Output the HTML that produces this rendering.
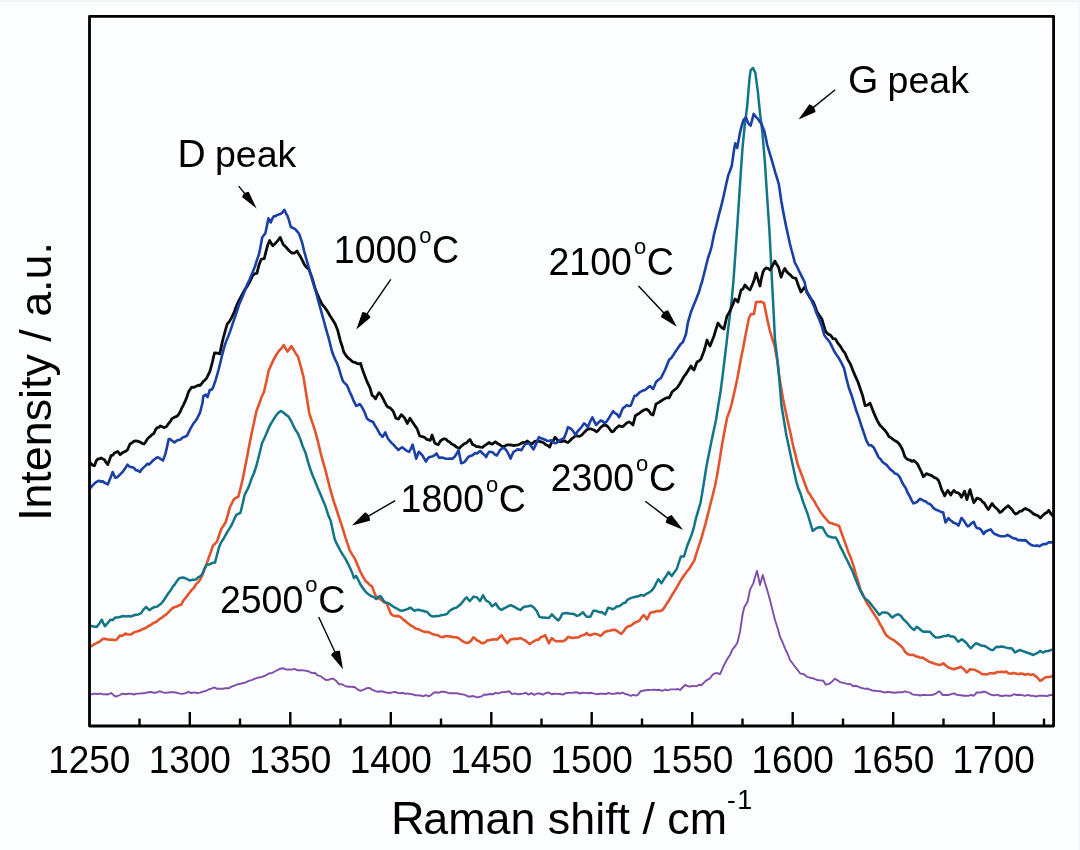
<!DOCTYPE html>
<html><head><meta charset="utf-8"><style>
html,body{margin:0;padding:0;background:#fcfdff;}
svg{display:block;}
text{font-family:"Liberation Sans",Arial,sans-serif;fill:#000;}
svg{-webkit-font-smoothing:antialiased;will-change:transform;}
</style></head><body>
<svg width="1080" height="850" viewBox="0 0 1080 850">
<rect x="0" y="0" width="1080" height="850" fill="#fcfdff"/>
<rect x="0" y="0.5" width="1080" height="1.2" fill="#eeeef1"/>
<rect x="1078.3" y="0" width="1.2" height="850" fill="#efefef"/>
<g clip-path="url(#clip)">
<path d="M90.5,694.5 L93.0,693.8 L95.5,693.8 L98.0,694.0 L100.5,693.6 L103.0,694.4 L105.6,694.2 L108.1,694.5 L111.0,693.0 L113.2,694.8 L115.3,696.5 L117.7,696.0 L120.0,695.0 L122.4,693.6 L125.3,694.2 L128.2,693.7 L131.0,693.7 L133.9,694.5 L136.8,693.6 L139.7,693.5 L142.5,693.3 L145.4,693.0 L148.3,692.2 L151.2,692.0 L154.0,692.8 L156.9,692.5 L159.8,691.2 L162.7,692.4 L165.5,692.8 L168.4,692.5 L171.2,692.1 L174.1,692.3 L177.0,692.8 L179.8,693.6 L182.7,693.9 L185.6,693.2 L188.4,691.8 L191.3,693.0 L194.2,692.4 L197.1,693.0 L199.9,692.6 L202.8,691.6 L205.7,691.0 L208.5,689.5 L211.4,688.7 L214.3,687.4 L217.2,688.8 L220.0,688.6 L222.9,688.7 L225.8,688.1 L228.6,688.3 L231.5,686.7 L234.4,685.6 L237.3,684.4 L240.2,683.8 L243.0,683.0 L245.9,682.4 L248.7,680.9 L251.6,680.1 L254.5,678.8 L257.3,677.8 L260.2,677.3 L262.6,676.7 L265.0,675.6 L267.4,674.4 L269.8,673.2 L272.2,673.0 L274.6,671.5 L277.5,670.2 L280.3,668.7 L283.2,668.2 L286.0,669.6 L288.9,669.5 L291.8,669.6 L294.6,668.9 L297.5,670.3 L300.4,670.1 L303.3,670.4 L306.1,670.8 L309.0,671.5 L311.9,673.1 L314.7,672.7 L317.6,675.3 L320.5,676.1 L323.3,678.2 L326.2,680.1 L328.6,679.8 L331.0,678.8 L333.4,678.7 L336.3,681.1 L339.2,684.4 L341.7,684.2 L344.2,685.5 L346.7,686.6 L349.2,686.7 L352.1,686.7 L354.9,687.3 L357.8,689.6 L360.7,690.8 L363.6,689.6 L366.4,688.3 L369.3,687.9 L372.1,689.6 L375.0,690.8 L377.9,691.8 L380.8,691.3 L383.6,691.8 L386.5,692.5 L389.4,693.0 L392.2,692.4 L395.1,691.9 L398.0,693.0 L400.4,693.2 L402.8,692.8 L405.2,693.8 L407.6,693.4 L410.0,694.0 L412.7,694.3 L415.3,695.3 L418.0,695.4 L420.6,695.5 L423.3,696.4 L425.9,695.0 L428.5,696.3 L431.1,695.2 L433.6,692.7 L436.2,692.3 L438.8,692.8 L441.4,691.7 L444.1,691.6 L446.7,692.4 L449.4,693.3 L452.0,693.1 L454.7,693.3 L457.3,693.3 L460.0,694.0 L462.7,694.4 L465.4,695.1 L468.1,696.5 L470.8,696.5 L473.5,696.0 L476.2,697.2 L478.9,697.0 L481.7,696.3 L484.4,694.5 L487.2,694.7 L490.0,694.0 L492.8,694.3 L495.6,692.8 L498.4,693.5 L501.1,692.3 L503.9,692.1 L506.7,691.7 L509.4,691.3 L512.0,694.1 L514.7,693.4 L517.3,694.2 L520.0,694.0 L522.9,693.6 L525.7,692.8 L528.6,694.6 L531.4,693.2 L534.3,694.8 L537.1,693.5 L540.0,693.5 L542.9,694.7 L545.7,693.1 L548.6,692.5 L551.4,694.3 L554.3,693.8 L557.1,693.9 L560.0,694.0 L562.9,694.7 L565.7,693.2 L568.6,692.9 L571.4,692.9 L574.3,692.5 L577.1,692.3 L580.0,693.5 L582.9,692.6 L585.7,692.9 L588.6,693.3 L591.4,692.8 L594.3,693.6 L597.1,694.3 L600.0,693.8 L602.9,693.6 L605.7,694.0 L608.6,693.0 L611.4,693.8 L614.3,693.9 L617.1,693.0 L620.0,693.5 L622.6,692.7 L625.3,694.0 L627.9,694.5 L630.5,695.8 L633.2,694.9 L635.8,695.6 L638.1,694.7 L640.5,691.2 L642.8,690.8 L645.6,690.3 L648.4,690.0 L651.1,689.9 L653.9,689.7 L656.7,690.0 L659.5,689.8 L662.2,690.8 L665.0,689.5 L667.7,690.3 L670.5,689.4 L673.2,689.4 L676.0,689.4 L678.0,689.0 L680.0,690.0 L682.5,687.5 L685.0,685.0 L687.5,686.0 L690.0,686.7 L692.2,685.9 L694.5,686.1 L696.7,686.3 L698.9,684.8 L701.1,685.2 L703.3,683.3 L705.5,681.1 L707.8,679.5 L710.0,678.3 L712.5,674.8 L715.0,673.3 L717.5,673.1 L720.0,674.2 L722.5,668.7 L725.0,663.3 L727.5,658.6 L730.0,655.0 L732.5,649.3 L735.0,646.4 L737.5,642.5 L740.0,631.7 L742.5,615.0 L744.2,607.5 L745.9,604.6 L747.5,601.7 L750.0,590.0 L751.6,586.7 L753.3,583.3 L755.1,577.1 L757.0,570.8 L758.5,577.7 L760.0,585.0 L762.8,575.0 L764.8,582.3 L766.7,588.3 L768.8,595.6 L770.8,603.3 L772.9,611.7 L775.0,620.0 L777.5,627.8 L780.0,636.7 L782.5,642.2 L785.0,648.3 L787.5,653.5 L790.0,660.0 L792.5,663.3 L795.0,666.7 L797.5,669.8 L800.0,673.3 L802.2,673.9 L804.5,674.5 L806.7,676.7 L808.9,677.4 L811.1,678.0 L813.3,678.3 L815.8,679.5 L818.3,680.3 L820.8,680.4 L823.3,680.8 L825.8,684.7 L827.9,684.1 L830.0,683.3 L832.5,681.2 L835.0,678.7 L837.2,680.1 L839.5,681.8 L841.7,682.5 L843.9,682.9 L846.1,683.6 L848.3,684.2 L850.5,683.9 L852.8,686.2 L855.0,685.8 L857.5,686.3 L860.0,687.5 L862.5,688.2 L865.0,688.9 L867.5,688.5 L870.0,689.6 L872.5,690.6 L875.0,690.8 L877.5,691.1 L880.0,691.3 L882.5,691.8 L885.0,692.5 L887.9,691.9 L890.9,692.3 L893.8,692.7 L896.7,692.5 L899.5,692.3 L902.2,692.3 L905.0,691.3 L907.5,692.1 L910.0,692.6 L912.5,694.4 L915.0,694.7 L917.5,694.9 L920.0,695.5 L922.5,695.0 L925.0,695.0 L927.8,695.1 L930.5,695.0 L933.3,694.7 L936.2,693.3 L939.2,691.3 L940.9,692.9 L942.5,695.0 L945.4,694.9 L948.3,695.0 L951.2,694.2 L954.2,693.3 L956.2,694.6 L958.3,695.0 L961.1,695.2 L963.9,695.7 L966.7,695.8 L968.9,695.7 L971.1,694.8 L973.3,695.8 L975.0,694.4 L976.7,692.5 L978.9,692.5 L981.1,692.5 L983.3,691.7 L985.0,691.8 L986.7,692.5 L989.2,693.8 L991.7,695.0 L994.5,695.3 L997.2,694.6 L1000.0,695.8 L1002.8,696.0 L1005.5,695.4 L1008.3,695.8 L1011.1,695.8 L1013.9,694.2 L1016.7,695.0 L1019.5,694.7 L1022.2,695.1 L1025.0,695.8 L1027.8,694.9 L1030.5,695.8 L1033.3,695.8 L1036.1,696.5 L1038.9,695.7 L1041.7,695.8 L1044.5,695.8 L1047.2,696.1 L1050.0,695.0 L1052.0,695.1 L1054.0,695.0" fill="none" stroke="#7e4eaa" stroke-width="1.9" stroke-linejoin="round" stroke-linecap="round"/>
<path d="M90.5,646.5 L91.2,646.2 L93.8,644.6 L96.5,643.0 L98.6,642.3 L100.7,640.8 L102.8,638.8 L104.9,638.9 L107.1,639.3 L109.2,639.8 L111.7,639.5 L114.1,640.1 L116.6,639.8 L118.2,637.7 L119.8,635.6 L122.6,635.7 L125.4,633.6 L128.2,634.5 L131.0,634.5 L133.9,632.4 L136.7,631.4 L139.5,630.8 L142.4,629.2 L145.2,628.2 L148.0,626.2 L150.8,625.0 L153.6,622.9 L156.4,621.7 L159.3,619.2 L162.1,617.6 L164.2,615.8 L166.3,614.4 L168.4,612.3 L170.5,610.1 L172.7,608.0 L174.8,607.0 L176.9,606.5 L179.0,605.3 L181.1,604.9 L183.2,600.8 L185.4,598.1 L187.5,595.4 L189.6,592.7 L191.7,589.9 L193.8,588.0 L195.9,584.4 L198.1,582.4 L200.2,579.5 L202.3,575.0 L204.4,569.5 L206.5,564.7 L208.6,558.0 L210.8,552.2 L212.9,545.6 L215.0,543.7 L217.1,541.4 L219.2,534.9 L221.4,528.7 L223.5,525.7 L225.6,522.3 L227.7,515.3 L229.8,507.5 L231.9,503.2 L234.1,499.1 L236.2,497.7 L238.3,496.9 L240.4,488.6 L242.5,480.0 L244.7,469.0 L246.8,458.4 L249.0,446.7 L251.5,434.0 L254.0,422.5 L256.5,411.0 L259.0,404.2 L261.5,397.3 L264.0,392.0 L266.4,381.3 L268.7,370.5 L271.0,365.4 L273.4,360.0 L276.2,355.0 L279.0,350.7 L281.4,348.4 L283.8,345.0 L285.6,348.5 L287.5,351.6 L289.4,349.0 L291.3,346.0 L293.5,349.7 L295.7,353.4 L297.9,356.4 L300.7,366.1 L303.5,377.0 L306.4,395.2 L309.2,412.8 L312.0,421.6 L314.8,429.8 L317.6,440.3 L320.5,452.4 L322.9,461.3 L325.4,470.0 L327.5,478.4 L329.6,486.9 L331.8,494.6 L333.9,501.8 L336.0,508.0 L338.1,514.5 L340.2,520.8 L342.3,527.2 L343.9,532.5 L345.5,537.7 L347.6,543.8 L349.7,550.4 L352.4,554.9 L355.0,558.9 L357.6,565.2 L360.3,571.6 L363.0,576.6 L365.6,581.1 L367.7,582.6 L369.9,585.2 L372.0,586.4 L374.1,591.9 L376.2,597.0 L378.9,598.5 L381.5,600.2 L384.1,602.1 L386.8,603.4 L388.9,609.1 L391.0,613.9 L393.1,615.6 L395.3,616.1 L398.0,615.9 L400.6,617.1 L403.2,619.6 L405.8,621.4 L408.5,623.7 L411.1,625.6 L413.8,627.2 L416.4,628.8 L419.0,629.4 L421.7,630.9 L424.4,631.9 L427.0,631.9 L429.6,632.5 L432.3,634.1 L435.0,634.8 L437.6,635.1 L440.2,636.7 L442.9,637.2 L445.5,636.0 L448.2,636.2 L450.9,636.6 L453.5,637.2 L456.1,637.2 L458.8,638.3 L461.2,640.2 L463.7,641.9 L466.3,642.9 L468.9,642.6 L471.1,640.7 L473.3,637.4 L475.1,638.4 L477.0,640.4 L479.0,641.1 L481.0,642.7 L483.0,643.3 L485.2,642.4 L487.4,640.4 L489.6,640.2 L491.9,639.6 L494.4,639.3 L497.0,639.6 L499.2,637.5 L501.5,635.2 L504.4,639.6 L505.9,641.4 L507.4,643.3 L508.9,641.4 L510.4,639.6 L513.3,638.9 L516.3,638.9 L518.5,638.6 L520.7,638.1 L523.0,639.4 L525.2,640.4 L527.4,642.2 L529.6,644.1 L531.9,642.5 L534.1,641.1 L536.3,639.9 L538.5,639.6 L540.0,638.0 L541.5,636.7 L543.4,636.3 L545.2,635.2 L547.0,639.2 L548.9,643.3 L550.4,640.4 L551.9,638.1 L553.8,640.0 L555.6,641.1 L558.2,641.3 L560.7,641.1 L563.3,641.2 L565.9,639.6 L568.1,636.7 L570.4,637.4 L572.6,638.1 L575.5,637.5 L578.5,637.4 L580.8,635.8 L583.0,635.2 L584.9,634.5 L586.7,633.0 L588.5,634.9 L590.4,635.2 L592.6,634.2 L594.8,633.7 L597.8,634.5 L600.7,635.9 L602.5,634.2 L604.4,632.2 L607.0,631.1 L609.6,630.7 L612.2,630.1 L614.8,629.7 L616.9,630.9 L619.1,632.5 L621.2,633.8 L623.8,631.1 L626.3,627.6 L628.7,626.2 L631.1,625.4 L633.5,623.5 L635.6,622.3 L637.6,621.6 L639.7,620.4 L641.8,617.1 L643.8,615.2 L645.3,616.9 L646.9,619.4 L648.5,616.5 L650.0,613.2 L652.1,612.2 L654.1,612.1 L656.2,611.1 L658.3,611.0 L660.3,611.1 L662.4,610.1 L664.5,607.3 L666.5,603.9 L669.1,600.2 L671.7,595.7 L674.2,591.5 L676.8,587.4 L678.9,583.6 L680.9,580.2 L683.0,577.1 L685.1,574.1 L687.1,571.1 L689.2,568.9 L691.8,564.5 L694.3,560.6 L695.8,555.4 L697.4,550.3 L699.5,544.2 L701.5,538.0 L703.5,530.7 L705.6,523.6 L707.2,516.9 L708.7,511.2 L710.2,505.0 L711.8,498.8 L713.3,492.7 L714.9,486.5 L716.5,478.5 L718.0,470.0 L720.0,457.7 L722.0,445.0 L724.5,431.2 L727.0,418.0 L728.5,413.8 L730.0,410.0 L731.5,404.5 L733.0,398.0 L735.0,389.2 L737.0,380.0 L739.0,369.6 L741.0,358.0 L743.0,348.7 L745.0,338.0 L747.0,327.7 L749.0,318.0 L751.0,314.0 L752.5,314.1 L754.0,314.0 L756.0,302.0 L758.5,302.0 L761.0,301.6 L762.5,302.4 L764.0,303.0 L765.5,310.6 L767.0,318.0 L769.7,330.0 L772.0,338.0 L774.4,345.0 L777.2,360.0 L778.7,372.9 L780.9,386.1 L783.1,399.2 L785.5,410.8 L788.0,422.3 L790.5,433.2 L793.0,445.3 L795.5,455.1 L797.9,465.1 L800.4,471.4 L802.9,478.2 L805.3,484.8 L807.8,491.4 L810.0,494.5 L812.2,498.3 L814.4,501.3 L816.6,505.6 L818.8,509.1 L821.0,512.8 L823.7,516.3 L826.5,519.5 L829.2,522.7 L831.7,523.2 L834.2,524.2 L836.6,524.8 L839.1,526.0 L841.3,532.2 L843.4,538.1 L845.6,544.1 L848.4,552.2 L851.1,558.6 L853.9,567.1 L856.1,575.3 L858.3,582.1 L860.5,590.2 L862.7,594.2 L864.8,598.8 L867.0,603.3 L869.2,606.3 L871.4,610.1 L873.6,613.2 L875.7,616.6 L877.9,620.0 L880.0,624.2 L882.2,627.6 L884.5,632.6 L886.7,635.8 L889.2,637.5 L891.7,639.2 L894.2,640.4 L896.7,642.5 L899.2,644.6 L901.7,646.7 L903.4,648.8 L905.0,651.7 L907.9,654.2 L910.8,655.0 L913.3,654.7 L915.8,656.4 L918.3,656.7 L920.5,657.8 L922.8,657.6 L925.0,659.2 L927.2,660.5 L929.5,661.9 L931.7,662.5 L934.2,663.6 L936.7,664.3 L939.2,665.0 L941.2,664.5 L943.3,663.3 L945.8,665.5 L948.3,667.5 L951.2,668.5 L954.2,669.2 L956.4,668.3 L958.6,667.9 L960.8,666.7 L963.8,669.2 L966.7,672.5 L968.4,671.1 L970.0,669.2 L972.2,669.5 L974.5,669.7 L976.7,670.8 L979.5,672.2 L982.2,674.2 L985.0,674.2 L987.2,674.4 L989.5,673.3 L991.7,673.3 L994.2,673.5 L996.7,672.1 L999.2,672.0 L1001.7,671.7 L1003.9,672.3 L1006.1,671.5 L1008.3,673.3 L1010.8,673.7 L1013.3,672.9 L1015.8,673.4 L1018.3,674.2 L1020.5,673.6 L1022.8,673.7 L1025.0,674.7 L1027.8,673.9 L1030.5,674.9 L1033.3,674.2 L1035.0,675.9 L1036.7,676.7 L1038.3,678.7 L1040.0,680.8 L1042.5,679.6 L1045.0,677.5 L1047.9,677.0 L1050.8,676.7 L1052.4,675.9 L1054.0,676.0" fill="none" stroke="#e2542c" stroke-width="2.6" stroke-linejoin="round" stroke-linecap="round"/>
<path d="M90.5,626.0 L91.2,626.1 L93.8,626.6 L96.5,627.1 L99.2,623.8 L101.8,619.7 L103.3,623.1 L104.9,626.1 L107.6,623.2 L110.2,619.7 L112.7,620.0 L115.1,617.6 L117.6,617.6 L120.4,616.8 L123.3,616.0 L126.1,616.5 L128.6,616.1 L131.0,616.4 L133.5,615.5 L136.0,614.8 L138.4,614.4 L140.9,613.4 L143.6,609.4 L146.2,607.0 L147.8,608.6 L149.4,610.2 L152.1,608.2 L154.7,607.0 L156.8,606.8 L158.9,605.3 L161.0,603.8 L163.7,600.5 L166.3,596.4 L168.4,593.2 L170.6,590.4 L172.7,586.9 L174.8,584.4 L176.9,581.1 L179.0,578.4 L181.2,577.7 L183.3,577.4 L185.4,578.4 L187.5,579.2 L189.6,580.5 L191.7,579.9 L193.9,579.7 L196.0,579.5 L198.1,577.4 L200.2,576.4 L202.3,574.2 L204.4,568.9 L206.5,564.7 L209.3,564.6 L212.2,562.9 L215.0,562.6 L217.1,554.5 L219.2,546.7 L221.3,542.1 L223.5,538.8 L225.6,535.0 L227.7,531.4 L229.8,528.1 L231.9,524.5 L234.1,519.5 L236.2,514.9 L238.3,513.9 L240.4,512.8 L242.5,504.4 L244.6,494.8 L246.8,490.7 L248.9,486.4 L251.4,479.1 L254.0,473.0 L256.5,465.5 L259.3,454.2 L262.1,443.0 L264.6,437.7 L267.1,432.0 L269.6,426.0 L272.5,421.1 L275.3,416.6 L278.1,412.9 L281.0,411.0 L282.5,411.9 L284.0,413.0 L286.2,415.0 L288.5,416.6 L290.9,420.5 L293.2,425.4 L295.5,430.0 L297.9,433.5 L300.4,439.5 L302.9,446.8 L305.4,452.4 L308.0,461.9 L310.6,470.0 L312.7,475.7 L314.8,480.6 L317.5,487.4 L320.1,493.3 L322.8,500.1 L325.4,506.0 L328.0,514.4 L330.7,520.8 L332.8,530.4 L334.9,539.9 L337.5,545.2 L340.2,550.4 L342.9,554.9 L345.5,558.9 L348.1,563.8 L350.8,569.5 L352.4,573.4 L354.0,578.0 L356.1,575.8 L358.2,579.8 L360.3,584.3 L363.0,588.2 L365.6,591.7 L368.2,594.1 L370.9,596.0 L373.5,596.9 L376.2,599.1 L378.3,596.9 L380.4,596.0 L382.5,599.0 L384.7,602.3 L386.8,602.8 L388.9,603.4 L391.0,604.9 L393.1,606.5 L395.2,607.8 L397.4,608.7 L399.5,610.2 L401.6,610.8 L403.7,610.3 L405.8,609.7 L408.0,608.9 L410.1,607.6 L412.2,608.8 L414.3,610.8 L416.4,609.9 L418.5,609.7 L420.6,610.3 L422.8,610.8 L424.9,611.5 L427.0,611.8 L429.1,614.2 L431.2,616.1 L433.9,616.4 L436.5,616.1 L439.1,615.9 L441.8,615.0 L444.5,614.8 L447.1,613.9 L449.2,611.2 L451.4,609.7 L454.0,608.3 L456.6,607.6 L458.3,606.3 L460.0,604.8 L461.9,602.8 L463.7,600.4 L465.2,598.5 L466.7,597.4 L469.6,601.1 L471.5,599.2 L473.3,596.7 L475.1,596.9 L477.0,597.4 L478.5,599.2 L480.0,601.1 L481.5,598.2 L483.0,595.2 L485.9,600.4 L487.4,601.3 L488.9,601.9 L490.4,603.8 L491.9,606.3 L493.8,605.1 L495.6,603.3 L498.5,607.8 L500.0,608.9 L501.5,610.0 L503.4,608.7 L505.2,607.8 L507.4,606.6 L509.6,605.6 L511.4,605.3 L513.3,606.3 L515.1,607.2 L517.0,608.5 L518.9,609.3 L520.7,610.0 L522.2,608.3 L523.7,607.0 L525.9,606.5 L528.1,606.3 L529.6,605.9 L531.1,605.6 L532.6,606.7 L534.1,607.8 L537.0,611.5 L539.3,616.7 L541.1,617.4 L543.0,617.4 L546.0,617.7 L548.9,618.1 L550.4,616.2 L551.9,614.4 L554.8,617.4 L556.6,619.1 L558.5,620.4 L560.4,617.7 L562.2,613.7 L564.5,613.2 L566.7,613.0 L568.9,613.5 L571.1,613.7 L574.0,614.1 L577.0,615.9 L579.0,615.3 L581.0,613.7 L583.0,612.2 L584.9,614.8 L586.7,616.7 L588.5,616.7 L590.4,616.7 L593.3,610.7 L595.5,610.7 L597.8,611.5 L600.0,612.2 L602.2,612.2 L603.7,613.5 L605.2,614.4 L608.1,607.8 L610.4,608.2 L612.6,609.3 L615.0,608.0 L617.1,606.2 L619.1,606.2 L621.2,604.9 L623.3,603.1 L625.3,602.8 L627.4,599.8 L630.1,598.4 L632.9,597.4 L635.6,596.7 L638.3,596.3 L641.1,594.9 L643.8,595.7 L646.4,593.8 L649.0,592.6 L651.5,590.7 L654.1,587.4 L656.2,583.3 L658.3,579.2 L659.8,581.1 L661.4,583.3 L663.5,579.8 L665.5,577.1 L667.0,574.7 L668.6,572.0 L670.2,574.2 L671.7,576.1 L674.2,572.6 L676.8,568.9 L678.8,562.6 L680.9,556.5 L682.5,556.6 L684.0,556.5 L685.5,551.4 L687.1,546.2 L689.2,540.8 L691.2,535.9 L692.8,530.9 L694.3,525.6 L695.8,518.9 L697.4,513.3 L699.0,507.8 L700.5,503.0 L702.6,490.6 L704.6,478.2 L706.5,466.0 L708.8,454.4 L711.1,443.1 L713.5,431.5 L716.0,420.0 L718.2,405.6 L720.5,392.0 L722.8,374.1 L725.0,356.0 L726.5,343.3 L728.0,330.0 L729.8,316.1 L731.5,302.0 L733.5,280.0 L735.5,252.0 L737.7,219.9 L740.0,184.5 L742.4,149.2 L744.7,125.7 L747.1,106.8 L749.5,78.6 L750.6,70.3 L753.0,68.0 L755.3,72.7 L757.7,90.3 L760.1,113.9 L762.4,132.7 L764.8,161.0 L767.1,196.3 L769.5,231.6 L770.7,255.2 L772.2,285.0 L773.6,312.0 L775.0,340.0 L776.6,353.2 L778.2,366.3 L779.9,386.3 L781.5,405.8 L784.0,420.8 L786.4,435.5 L788.8,446.6 L791.3,458.5 L793.8,469.9 L796.3,481.5 L798.5,488.8 L800.7,494.1 L802.9,501.3 L805.3,507.9 L807.8,514.5 L810.2,522.5 L812.7,530.9 L815.2,528.9 L817.7,527.6 L820.2,527.2 L822.6,527.6 L825.0,531.8 L827.5,535.9 L830.0,536.8 L832.5,537.5 L834.1,537.6 L835.8,537.5 L838.2,541.9 L840.7,547.4 L842.9,551.6 L845.1,556.3 L847.3,560.5 L849.8,565.8 L852.2,570.4 L854.4,576.3 L856.6,581.8 L858.8,586.9 L861.2,592.2 L863.7,596.7 L865.9,599.3 L868.1,600.7 L870.3,603.3 L872.6,606.3 L875.0,609.2 L877.1,611.9 L879.2,615.0 L882.1,612.6 L885.0,612.5 L887.1,612.8 L889.2,614.2 L890.9,616.4 L892.5,617.5 L895.4,615.3 L898.3,614.2 L900.8,615.8 L903.3,619.2 L905.8,621.5 L908.3,624.2 L911.2,627.8 L914.2,630.0 L916.7,626.7 L918.9,628.3 L921.1,630.2 L923.3,631.7 L925.5,631.6 L927.8,631.7 L930.0,631.7 L932.9,635.2 L935.8,637.5 L938.8,637.5 L941.7,636.7 L943.9,636.1 L946.1,636.0 L948.3,635.0 L950.5,636.4 L952.8,636.5 L955.0,637.5 L956.6,639.7 L958.3,641.7 L960.0,640.5 L961.7,639.2 L964.2,641.0 L966.7,643.3 L968.8,646.2 L970.8,648.3 L973.3,645.7 L975.8,643.3 L978.8,644.3 L981.7,645.8 L983.9,645.7 L986.1,646.8 L988.3,648.3 L990.8,649.8 L993.3,650.0 L995.0,648.0 L996.7,646.7 L998.9,646.9 L1001.1,646.5 L1003.3,646.7 L1006.1,647.6 L1008.9,648.2 L1011.7,648.3 L1013.4,650.2 L1015.0,652.5 L1017.5,651.1 L1020.0,650.0 L1022.2,650.9 L1024.5,651.7 L1026.7,652.5 L1028.9,653.3 L1031.1,654.0 L1033.3,655.0 L1035.5,653.9 L1037.8,652.9 L1040.0,650.8 L1041.7,651.8 L1043.3,652.5 L1045.8,651.2 L1048.3,651.1 L1050.8,650.0 L1052.4,649.8 L1054.0,649.5" fill="none" stroke="#127585" stroke-width="2.5" stroke-linejoin="round" stroke-linecap="round"/>
<path d="M90.5,463.0 L91.3,463.8 L92.9,465.4 L94.6,465.5 L96.2,461.0 L97.9,458.9 L99.6,458.8 L101.2,458.0 L102.8,458.9 L104.5,459.7 L106.2,462.7 L107.8,464.6 L109.4,460.3 L111.1,455.6 L112.8,455.1 L114.4,453.1 L116.1,452.3 L117.7,451.4 L120.1,454.7 L121.8,453.3 L123.4,452.3 L125.5,451.3 L127.5,449.8 L130.0,444.0 L132.1,442.8 L134.1,441.1 L135.8,441.0 L137.4,441.2 L139.1,441.7 L140.7,442.4 L142.3,443.5 L144.0,444.0 L145.7,441.8 L147.3,439.1 L148.9,437.4 L150.6,436.1 L152.2,434.6 L153.9,433.3 L155.6,429.7 L157.2,427.6 L158.8,427.4 L160.5,425.9 L162.2,426.7 L163.8,427.6 L166.3,426.7 L168.7,423.4 L170.3,421.5 L172.0,418.5 L173.7,417.8 L175.3,416.8 L176.9,416.4 L178.6,414.4 L180.2,411.7 L181.9,407.8 L183.6,404.6 L185.2,401.2 L186.8,397.2 L188.5,392.1 L190.2,389.3 L191.8,387.2 L194.2,387.3 L196.7,386.0 L198.3,385.2 L200.0,385.5 L201.7,383.6 L203.3,381.4 L204.9,380.2 L206.6,378.1 L208.2,374.9 L209.9,371.5 L212.4,362.0 L214.5,352.8 L217.2,353.1 L219.8,353.9 L221.4,346.1 L223.0,339.0 L225.1,331.4 L227.2,324.2 L229.3,321.6 L231.5,317.9 L234.2,312.1 L236.8,305.1 L239.4,299.7 L242.1,294.6 L244.8,289.6 L247.4,286.1 L250.1,281.2 L252.7,275.5 L254.8,273.7 L256.9,273.4 L259.0,264.9 L261.1,259.6 L262.7,258.8 L264.3,258.5 L265.9,251.9 L267.5,245.8 L269.6,240.5 L271.2,243.4 L272.8,245.8 L274.4,244.3 L276.0,242.7 L278.1,240.3 L280.2,237.4 L281.8,241.2 L283.4,244.8 L285.5,246.6 L287.6,249.0 L289.2,250.8 L290.8,252.2 L292.4,253.2 L294.0,253.2 L295.6,252.1 L297.1,251.1 L298.7,254.0 L300.3,256.4 L302.5,260.6 L304.6,264.9 L306.7,267.5 L308.8,269.1 L310.4,273.6 L312.0,277.6 L313.6,283.2 L315.1,288.2 L317.2,293.7 L319.4,298.8 L322.0,304.1 L324.7,307.3 L327.4,311.3 L330.0,315.7 L332.6,319.7 L335.3,324.2 L337.6,330.0 L340.3,340.6 L342.1,346.1 L343.8,352.1 L346.0,355.5 L348.2,358.2 L350.4,359.7 L352.6,361.8 L354.9,362.3 L357.1,363.5 L358.9,363.8 L360.6,363.5 L362.4,369.3 L364.1,374.1 L365.9,378.7 L367.6,382.9 L369.9,387.7 L372.1,395.3 L373.9,396.6 L375.6,398.8 L377.4,395.2 L379.1,392.6 L380.9,394.7 L382.6,397.9 L384.4,401.3 L386.2,405.0 L387.9,407.1 L389.7,407.6 L391.4,409.3 L393.2,411.2 L395.9,418.2 L398.5,419.1 L401.2,414.7 L402.9,416.1 L404.7,418.2 L407.3,423.5 L410.0,418.2 L411.8,421.1 L413.5,423.5 L415.3,426.2 L417.1,428.8 L419.7,435.9 L421.4,436.4 L423.2,436.8 L425.0,437.8 L426.8,439.4 L428.6,439.8 L430.3,440.3 L432.1,435.0 L434.7,442.9 L436.4,444.0 L438.2,444.7 L440.4,441.0 L442.6,439.4 L444.4,438.7 L446.2,439.4 L447.9,441.2 L449.7,442.1 L451.4,443.8 L453.2,444.7 L455.0,445.8 L456.8,447.3 L459.4,448.2 L462.0,445.6 L464.2,443.7 L466.5,442.9 L468.2,441.1 L470.0,439.4 L472.6,444.7 L474.4,445.1 L476.2,446.5 L478.2,446.7 L480.3,447.2 L482.5,447.3 L484.6,445.6 L486.9,444.1 L489.2,442.5 L490.7,443.7 L492.2,444.1 L493.8,442.9 L495.3,441.8 L497.6,443.5 L499.9,444.8 L502.2,446.4 L504.5,446.4 L506.8,444.9 L509.1,444.8 L511.4,445.0 L513.7,445.6 L516.0,445.1 L518.2,444.8 L520.5,443.8 L522.8,442.5 L525.1,442.6 L527.4,441.0 L529.7,442.9 L532.0,444.1 L534.3,441.7 L536.6,441.0 L538.9,441.3 L541.2,441.8 L543.5,442.8 L545.8,444.8 L547.7,445.5 L549.6,447.1 L551.9,441.8 L553.5,440.3 L555.0,437.2 L556.5,438.7 L558.0,441.0 L559.5,441.5 L561.1,441.8 L563.0,441.1 L564.9,441.0 L566.5,442.1 L568.0,442.5 L569.9,440.8 L571.8,438.7 L573.7,437.3 L575.6,435.7 L577.5,436.0 L579.4,436.4 L581.7,435.1 L584.0,432.6 L586.3,430.2 L588.6,428.8 L590.5,428.8 L592.4,429.5 L594.3,430.1 L596.3,431.8 L598.2,430.5 L600.1,428.0 L602.0,426.4 L603.9,425.0 L605.8,425.3 L607.7,426.5 L609.7,429.0 L611.6,431.8 L613.5,431.4 L615.4,428.8 L617.3,427.2 L619.2,425.7 L621.1,426.5 L623.0,426.5 L624.5,425.1 L626.1,423.4 L627.6,422.6 L629.1,421.9 L631.0,423.1 L633.0,425.0 L635.3,415.8 L637.2,414.5 L639.1,413.5 L641.5,411.5 L644.0,410.0 L646.5,409.2 L649.0,411.0 L651.0,414.2 L653.0,415.0 L654.5,409.8 L656.0,404.0 L658.5,402.6 L661.0,401.0 L663.5,399.4 L666.0,398.0 L667.5,397.7 L669.0,398.0 L670.5,395.3 L672.0,392.0 L674.5,389.9 L677.0,388.0 L679.5,384.3 L682.0,380.0 L684.0,376.3 L686.0,374.0 L687.5,371.6 L689.0,369.0 L691.0,366.0 L692.5,368.7 L694.0,370.0 L695.5,365.9 L697.0,362.0 L699.0,360.9 L701.0,359.0 L702.5,355.0 L704.0,351.0 L705.5,345.9 L707.0,340.0 L708.5,343.4 L710.0,346.0 L712.0,341.0 L714.0,336.0 L716.0,329.2 L718.0,323.0 L719.5,325.1 L721.0,327.0 L722.5,328.0 L724.0,329.0 L725.5,322.3 L727.0,316.0 L728.5,313.7 L730.0,311.0 L732.5,305.3 L735.0,299.0 L736.5,300.2 L738.0,302.0 L739.5,296.0 L741.0,290.0 L743.0,288.9 L745.0,285.0 L747.5,288.0 L750.0,290.0 L751.5,286.5 L753.0,283.0 L754.5,278.9 L756.0,273.0 L758.0,279.3 L760.0,286.0 L761.5,278.1 L763.0,272.0 L764.5,269.3 L766.0,268.0 L768.0,268.3 L770.0,270.0 L772.5,265.7 L774.9,261.1 L776.8,264.6 L778.6,267.3 L781.1,277.2 L783.0,271.9 L784.8,268.5 L786.6,271.5 L788.5,273.5 L790.4,274.8 L792.2,277.2 L794.0,277.9 L795.9,278.4 L798.4,285.5 L800.9,292.0 L802.8,289.7 L804.6,287.0 L807.0,292.0 L809.5,296.9 L811.4,299.5 L813.2,301.9 L815.0,306.3 L816.9,311.7 L819.4,315.6 L821.9,319.1 L823.8,325.7 L825.6,331.5 L828.0,333.9 L830.5,335.2 L833.0,338.6 L835.4,338.9 L837.9,343.2 L840.4,346.3 L842.8,350.4 L845.3,353.7 L847.8,359.6 L850.2,363.6 L852.7,369.9 L855.2,375.9 L857.7,381.3 L860.1,388.3 L862.6,395.6 L865.1,405.6 L867.5,405.1 L870.0,403.1 L872.5,409.6 L874.9,415.4 L877.4,420.9 L879.9,425.3 L882.3,427.6 L884.8,430.2 L886.9,433.0 L888.9,436.6 L891.0,437.7 L893.0,439.4 L895.0,440.7 L897.3,442.0 L899.6,444.5 L901.1,447.0 L902.6,449.9 L904.9,456.8 L906.8,458.9 L908.8,459.8 L910.3,460.2 L911.8,461.4 L913.8,460.5 L915.7,462.1 L917.6,464.1 L919.5,468.2 L921.4,471.8 L923.3,476.7 L924.8,475.4 L926.4,473.6 L928.3,474.4 L930.2,475.1 L932.1,475.9 L934.0,477.4 L936.3,478.2 L938.6,480.5 L940.2,485.1 L941.7,489.7 L943.2,492.7 L944.7,495.8 L946.2,492.9 L947.8,490.4 L949.3,492.6 L950.8,495.0 L952.3,492.4 L953.9,490.4 L955.8,492.4 L957.7,492.7 L959.6,493.9 L961.5,497.3 L963.0,494.3 L964.6,491.2 L966.9,499.6 L968.5,494.3 L970.0,489.7 L972.2,497.3 L973.8,502.7 L975.3,500.7 L976.8,498.1 L978.8,498.7 L980.7,499.6 L982.6,501.7 L984.5,503.4 L986.4,506.7 L988.3,509.5 L990.2,506.5 L992.1,503.4 L994.0,506.2 L996.0,508.0 L997.9,509.7 L999.8,512.6 L1001.7,511.5 L1003.6,509.5 L1005.9,507.5 L1008.2,505.7 L1010.1,507.8 L1012.0,509.5 L1013.9,512.5 L1015.8,514.1 L1017.8,513.1 L1019.7,511.1 L1021.6,511.2 L1023.5,509.5 L1025.4,508.5 L1027.3,509.5 L1029.2,510.2 L1031.1,511.8 L1033.4,513.9 L1035.7,514.9 L1038.0,515.8 L1040.3,518.0 L1042.7,515.6 L1045.0,513.4 L1046.8,512.6 L1048.7,510.3 L1050.7,513.4 L1052.6,515.7 L1054.0,515.0" fill="none" stroke="#0b0b0e" stroke-width="2.8" stroke-linejoin="round" stroke-linecap="round"/>
<path d="M89.6,488.5 L91.2,487.1 L92.9,485.2 L95.4,482.6 L97.9,481.1 L99.6,480.9 L101.2,481.9 L102.8,481.2 L104.5,482.8 L106.2,483.5 L107.8,484.4 L110.2,478.6 L112.7,472.0 L115.2,477.8 L117.2,477.2 L119.3,475.3 L120.9,473.7 L122.6,472.0 L125.0,468.6 L127.5,464.6 L129.2,466.3 L130.8,467.1 L132.4,467.2 L134.1,467.9 L135.8,470.2 L137.4,470.4 L139.9,472.0 L141.9,469.1 L144.0,467.1 L145.7,465.6 L147.3,463.8 L148.9,464.5 L150.6,463.0 L152.2,461.3 L153.9,459.7 L155.6,458.5 L157.2,457.2 L158.8,457.8 L160.5,458.9 L163.0,460.5 L165.4,453.9 L167.1,446.6 L168.7,439.1 L170.3,439.1 L172.0,440.7 L174.5,442.4 L176.6,440.8 L178.6,439.9 L180.6,439.5 L182.7,437.4 L184.8,436.7 L186.9,435.8 L188.6,432.4 L190.2,429.2 L191.8,426.4 L193.5,423.4 L195.1,421.5 L196.7,419.3 L198.3,416.1 L200.0,412.7 L202.5,402.8 L203.3,396.2 L205.8,394.6 L207.5,397.1 L209.9,389.7 L211.6,389.7 L213.2,387.2 L215.7,379.8 L218.5,370.0 L220.2,363.2 L221.9,356.0 L224.1,347.7 L226.2,341.2 L228.3,336.2 L230.4,330.6 L232.6,323.9 L234.7,317.9 L236.8,311.9 L238.9,305.1 L241.6,298.7 L244.2,292.4 L246.8,285.4 L249.5,279.7 L252.2,273.3 L254.8,267.0 L256.9,260.1 L259.0,254.3 L260.6,246.2 L262.2,237.4 L263.8,235.2 L265.4,233.1 L266.9,226.0 L268.5,218.3 L270.7,222.5 L272.2,218.9 L273.8,216.2 L275.4,216.3 L277.0,215.1 L278.6,214.5 L280.2,214.1 L282.3,212.6 L284.4,209.8 L286.0,213.3 L287.6,216.2 L289.2,221.1 L290.8,226.8 L292.9,228.0 L295.0,228.9 L297.1,231.3 L299.3,234.2 L300.9,239.1 L302.4,243.7 L304.0,250.6 L305.6,256.4 L307.8,264.2 L309.9,271.3 L312.0,279.2 L314.1,286.1 L316.2,292.9 L318.3,300.9 L321.0,310.6 L323.6,320.0 L326.2,329.7 L328.9,339.0 L331.8,350.7 L333.4,355.3 L335.0,359.1 L336.8,362.8 L338.5,367.1 L340.7,374.5 L342.9,381.2 L344.7,383.1 L346.5,384.7 L348.2,388.0 L350.0,392.6 L351.8,396.2 L353.5,400.6 L356.2,405.9 L357.9,405.2 L359.7,404.1 L361.4,406.3 L363.2,409.4 L365.0,413.3 L366.8,418.2 L368.6,419.9 L370.3,420.9 L372.9,421.8 L374.7,425.0 L376.5,427.9 L378.2,430.9 L380.0,434.1 L382.6,436.8 L385.3,432.4 L387.9,438.5 L389.7,440.7 L391.5,442.9 L393.7,444.9 L395.9,447.3 L398.5,450.0 L400.3,448.4 L402.1,447.3 L403.9,448.5 L405.6,450.0 L407.4,451.1 L409.1,451.8 L410.9,448.8 L412.6,444.7 L414.4,451.5 L416.2,458.8 L418.8,451.8 L420.6,453.5 L422.4,455.3 L424.1,458.3 L425.9,461.5 L427.6,458.7 L429.4,457.0 L431.1,456.7 L432.9,456.2 L434.7,455.2 L436.5,453.5 L439.1,457.9 L441.3,457.5 L443.5,457.9 L445.7,458.8 L447.9,458.8 L450.1,458.5 L452.3,458.8 L454.6,456.8 L456.8,453.5 L458.5,450.0 L461.2,463.2 L463.8,462.4 L466.0,460.3 L468.2,457.0 L470.4,455.9 L472.6,455.3 L474.8,453.3 L477.0,453.5 L478.6,452.1 L480.3,451.0 L483.1,454.0 L484.6,455.0 L486.1,457.1 L487.6,453.9 L489.2,451.7 L491.1,452.0 L493.0,452.5 L494.9,454.6 L496.8,455.5 L498.4,452.8 L499.9,450.2 L501.4,449.0 L502.9,447.9 L504.9,448.6 L506.8,451.0 L508.7,454.5 L510.6,458.6 L512.2,454.6 L513.7,451.7 L515.6,450.8 L517.5,449.4 L519.4,449.6 L521.3,450.2 L523.2,447.1 L525.1,444.1 L527.0,443.7 L528.9,443.3 L531.2,446.2 L533.5,449.4 L536.2,443.9 L538.9,437.2 L540.8,438.2 L542.7,438.7 L545.0,439.7 L547.3,441.0 L549.2,440.7 L551.1,440.2 L553.0,442.0 L555.0,443.3 L557.2,442.5 L559.5,440.2 L561.8,439.2 L564.1,438.0 L566.0,433.3 L568.0,427.2 L569.9,428.1 L571.8,429.5 L573.7,432.1 L575.6,434.9 L577.5,431.5 L579.4,429.5 L581.7,426.9 L584.0,423.4 L585.9,424.8 L587.8,427.2 L590.1,421.7 L592.4,417.3 L594.3,421.5 L596.3,425.0 L598.5,422.4 L600.8,420.4 L602.8,421.5 L604.7,423.4 L606.6,421.5 L608.5,418.8 L610.8,414.9 L613.1,411.2 L615.0,413.1 L616.9,414.2 L619.2,417.3 L621.1,412.5 L623.0,408.1 L624.9,406.9 L626.8,405.1 L628.8,406.0 L630.7,405.8 L632.6,400.9 L634.5,395.9 L636.0,395.8 L637.6,394.4 L639.8,392.1 L642.4,390.8 L645.0,390.0 L647.5,387.9 L650.0,386.0 L651.5,387.5 L653.0,389.0 L654.5,385.9 L656.0,382.0 L658.5,379.8 L661.0,378.0 L663.0,373.8 L665.0,370.0 L667.0,365.1 L669.0,360.0 L671.5,357.7 L674.0,354.0 L676.0,350.8 L678.0,348.0 L680.5,344.2 L683.0,342.0 L684.5,338.0 L686.0,334.0 L688.0,322.0 L689.5,317.2 L691.0,312.0 L693.0,306.7 L695.0,302.0 L697.0,297.1 L699.0,292.0 L700.5,286.3 L702.0,282.0 L703.5,276.0 L705.0,270.0 L706.5,264.0 L708.0,258.0 L709.8,252.8 L711.5,247.0 L714.1,234.0 L716.5,224.7 L718.8,215.1 L721.2,206.1 L723.6,196.3 L726.0,185.1 L728.3,175.1 L730.0,170.7 L731.8,165.7 L734.1,149.2 L735.3,143.3 L737.2,148.0 L740.0,132.7 L741.8,125.5 L743.6,119.8 L745.9,117.4 L748.3,123.3 L750.6,125.7 L752.2,119.6 L753.7,113.9 L755.7,116.8 L757.7,118.6 L759.5,121.3 L761.2,123.3 L764.1,130.4 L765.6,136.8 L767.1,144.5 L768.9,150.7 L770.7,156.3 L773.0,164.3 L775.4,172.8 L777.1,178.3 L778.9,184.5 L781.3,201.0 L783.0,210.5 L784.8,219.9 L786.5,228.2 L788.3,236.3 L789.9,243.7 L791.5,250.0 L793.1,255.6 L794.7,262.3 L797.2,267.0 L799.6,272.2 L802.1,277.1 L804.6,282.1 L807.0,293.2 L808.9,294.8 L810.7,298.1 L812.5,303.0 L814.4,306.8 L816.2,312.5 L818.1,316.7 L820.0,321.3 L821.9,326.5 L824.3,335.2 L826.8,338.5 L829.3,341.4 L831.8,346.1 L834.2,351.2 L836.7,355.1 L839.1,358.6 L841.6,363.1 L844.1,368.5 L846.5,378.9 L849.0,388.3 L851.5,395.0 L854.0,403.1 L856.5,411.3 L858.9,417.9 L861.3,425.5 L863.8,432.7 L866.3,440.4 L868.8,445.1 L871.2,445.3 L873.7,447.5 L876.2,452.4 L878.6,457.4 L880.5,459.1 L882.5,462.0 L884.6,463.5 L886.8,465.1 L888.9,467.8 L891.0,470.0 L893.0,471.4 L895.0,473.6 L896.9,474.1 L898.8,475.9 L900.3,478.3 L901.9,482.0 L903.8,485.2 L905.7,488.1 L907.6,492.5 L909.5,495.8 L911.5,500.1 L913.4,503.4 L915.3,502.7 L917.2,501.9 L918.7,500.0 L920.2,498.8 L922.2,499.8 L924.1,501.1 L926.0,501.6 L927.9,503.4 L929.8,503.8 L931.7,505.7 L933.6,508.1 L935.5,509.5 L937.5,510.2 L939.4,511.1 L941.3,512.0 L943.2,512.6 L945.5,522.5 L947.0,520.2 L948.5,518.0 L950.0,520.0 L951.6,521.0 L953.5,522.8 L955.4,523.3 L957.0,524.2 L958.5,525.6 L960.0,521.7 L961.5,518.0 L963.0,519.6 L964.6,521.8 L966.2,524.6 L967.7,526.4 L969.2,525.7 L970.7,524.1 L972.2,522.8 L973.8,521.8 L975.3,525.7 L976.8,527.9 L978.3,528.3 L979.9,528.7 L981.8,530.8 L983.7,534.0 L985.2,531.7 L986.8,531.0 L988.7,530.1 L990.6,529.4 L992.5,531.8 L994.4,534.0 L996.3,534.5 L998.3,535.5 L1000.2,536.1 L1002.1,536.3 L1004.8,536.3 L1007.4,534.8 L1009.3,535.9 L1011.3,537.1 L1013.5,538.3 L1015.8,538.6 L1018.1,540.3 L1020.4,540.1 L1022.7,540.4 L1025.0,540.1 L1026.9,541.4 L1028.8,543.2 L1030.8,544.6 L1032.7,545.5 L1035.0,545.8 L1037.3,545.5 L1039.5,546.3 L1041.8,544.7 L1044.1,544.1 L1046.4,543.9 L1048.7,542.3 L1051.0,542.4 L1052.5,542.3 L1054.0,542.0" fill="none" stroke="#1a40a6" stroke-width="2.6" stroke-linejoin="round" stroke-linecap="round"/>
</g>
<defs><clipPath id="clip"><rect x="90" y="17" width="963" height="709"/></clipPath></defs>
<rect x="89.5" y="16.4" width="964.1" height="709.6" fill="none" stroke="#000" stroke-width="2.8" stroke-linejoin="round"/>
<g stroke="#000" stroke-width="2.4"><line x1="139.5" y1="718.5" x2="139.5" y2="726"/><line x1="189.8" y1="712.0" x2="189.8" y2="726"/><line x1="240.0" y1="718.5" x2="240.0" y2="726"/><line x1="290.3" y1="712.0" x2="290.3" y2="726"/><line x1="340.5" y1="718.5" x2="340.5" y2="726"/><line x1="390.8" y1="712.0" x2="390.8" y2="726"/><line x1="441.0" y1="718.5" x2="441.0" y2="726"/><line x1="491.3" y1="712.0" x2="491.3" y2="726"/><line x1="541.5" y1="718.5" x2="541.5" y2="726"/><line x1="591.7" y1="712.0" x2="591.7" y2="726"/><line x1="642.0" y1="718.5" x2="642.0" y2="726"/><line x1="692.2" y1="712.0" x2="692.2" y2="726"/><line x1="742.5" y1="718.5" x2="742.5" y2="726"/><line x1="792.7" y1="712.0" x2="792.7" y2="726"/><line x1="843.0" y1="718.5" x2="843.0" y2="726"/><line x1="893.2" y1="712.0" x2="893.2" y2="726"/><line x1="943.5" y1="718.5" x2="943.5" y2="726"/><line x1="993.7" y1="712.0" x2="993.7" y2="726"/><line x1="1044.0" y1="718.5" x2="1044.0" y2="726"/></g>
<g font-size="37" transform="translate(0,773) scale(1,1.04)"><text x="89.3" y="0" text-anchor="middle">1250</text><text x="189.8" y="0" text-anchor="middle">1300</text><text x="290.3" y="0" text-anchor="middle">1350</text><text x="390.8" y="0" text-anchor="middle">1400</text><text x="491.3" y="0" text-anchor="middle">1450</text><text x="591.7" y="0" text-anchor="middle">1500</text><text x="692.2" y="0" text-anchor="middle">1550</text><text x="792.7" y="0" text-anchor="middle">1600</text><text x="893.2" y="0" text-anchor="middle">1650</text><text x="993.7" y="0" text-anchor="middle">1700</text></g>
<g font-size="37.5"><text x="177.5" y="167"><tspan font-size="39">D</tspan><tspan dx="-1.08"> peak</tspan></text><text x="848" y="92.6"><tspan font-size="39">G</tspan><tspan dx="-1.17"> peak</tspan></text><text transform="translate(333.8,262.6) scale(1,1.04)" x="0" y="0">1000<tspan font-size="22" dx="2" dy="-19.3">o</tspan><tspan dx="0.6" dy="19.3">C</tspan></text><text transform="translate(548.5,274.5) scale(1,1.04)" x="0" y="0">2100<tspan font-size="22" dx="2" dy="-19.3">o</tspan><tspan dx="0.6" dy="19.3">C</tspan></text><text transform="translate(400.6,511.7) scale(1,1.04)" x="0" y="0">1800<tspan font-size="22" dx="2" dy="-19.3">o</tspan><tspan dx="0.6" dy="19.3">C</tspan></text><text transform="translate(550.7,490.8) scale(1,1.04)" x="0" y="0">2300<tspan font-size="22" dx="2" dy="-19.3">o</tspan><tspan dx="0.6" dy="19.3">C</tspan></text><text transform="translate(219.9,612.5) scale(1,1.04)" x="0" y="0">2500<tspan font-size="22" dx="2" dy="-19.3">o</tspan><tspan dx="0.6" dy="19.3">C</tspan></text></g>
<line x1="238.7" y1="186.1" x2="246.6" y2="195.9" stroke="#000" stroke-width="1.4"/><path d="M256.6,208.4 L242.0,197.1 Q243.5,192.0 248.7,191.7 Z" fill="#000"/><line x1="390.8" y1="279.3" x2="365.3" y2="316.4" stroke="#000" stroke-width="1.4"/><path d="M356.3,329.6 L362.4,312.0 Q368.2,312.3 370.5,317.5 Z" fill="#000"/><line x1="638.5" y1="286.0" x2="665.8" y2="315.1" stroke="#000" stroke-width="1.4"/><path d="M676.8,326.8 L660.9,317.0 Q662.4,311.5 668.1,310.3 Z" fill="#000"/><line x1="835.2" y1="89.8" x2="811.0" y2="109.4" stroke="#000" stroke-width="1.4"/><path d="M798.5,119.4 L809.4,104.3 Q814.8,106.2 815.6,111.9 Z" fill="#000"/><line x1="395.2" y1="500.6" x2="365.8" y2="517.6" stroke="#000" stroke-width="1.4"/><path d="M352.0,525.6 L365.1,512.3 Q370.2,515.1 370.0,520.8 Z" fill="#000"/><line x1="645.3" y1="501.3" x2="670.2" y2="520.1" stroke="#000" stroke-width="1.4"/><path d="M683.0,529.7 L665.7,522.8 Q666.2,517.1 671.6,515.0 Z" fill="#000"/><line x1="318.7" y1="617.0" x2="336.2" y2="654.7" stroke="#000" stroke-width="1.4"/><path d="M343.0,669.2 L331.0,654.9 Q334.1,650.2 339.8,650.8 Z" fill="#000"/>
<text x="391" y="833.5" font-size="44.8"><tspan font-size="46.6">R</tspan><tspan dx="-1.29">aman shift / cm</tspan><tspan font-size="26" dy="-24.8">-</tspan><tspan font-size="27" dx="1.4">1</tspan></text>
<text transform="translate(50.5,521) rotate(-90)" font-size="44.8"><tspan font-size="46.6">I</tspan><tspan dx="-0.5">ntensity / a.u.</tspan></text>
</svg>
</body></html>
